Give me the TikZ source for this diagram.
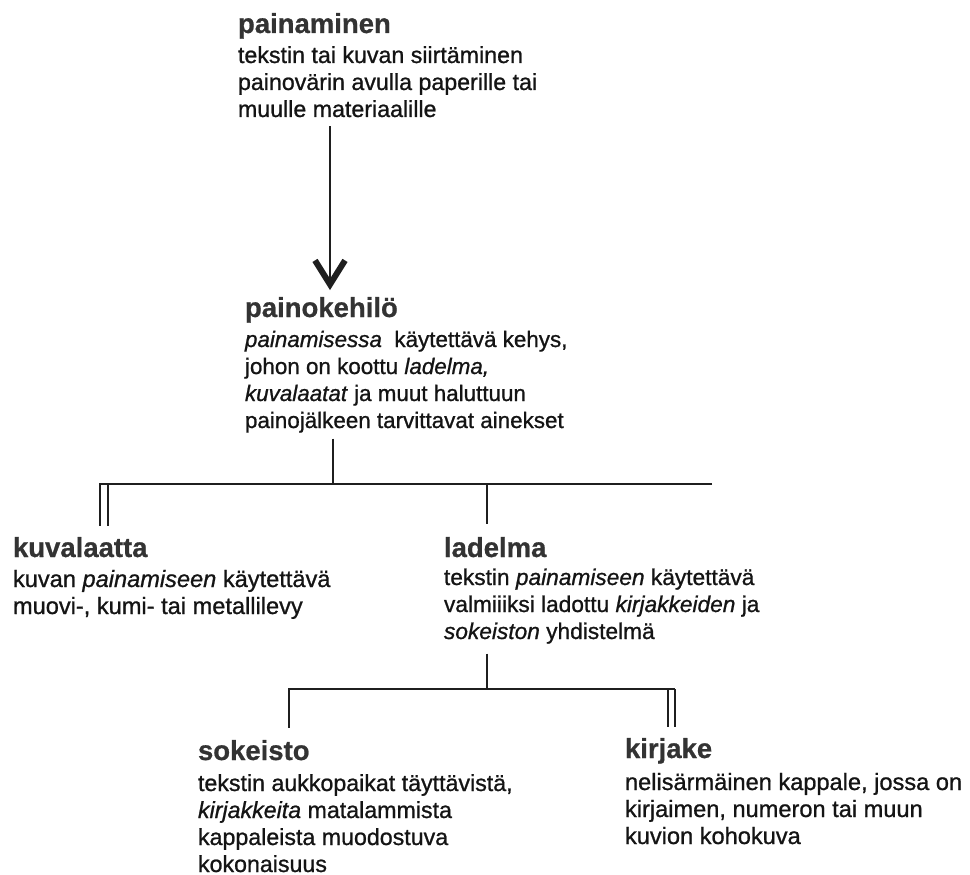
\documentclass[tikz,border=0pt]{standalone}
\usepackage{fontspec}
\setmainfont{Liberation Sans}
\newfontfamily\bodyfam{Liberation Sans}[RawFeature={embolden=0.9}]
\newfontfamily\ttlfam{Liberation Sans}[RawFeature={embolden=0.7}]
\usetikzlibrary{arrows.meta,calc}
\newcommand\ttlfont{\ttlfam\fontsize{27.5}{30}\selectfont\bfseries}
\newcommand\bdyfont[1]{\bodyfam\fontsize{#1}{27}\selectfont\mdseries}
\newcommand\blk[5][23]{\vtop{\ttlfont\hbox{\color{black!80}#2}\bdyfont{#1}\baselineskip=#3\relax\hbox{#4}\baselineskip=27pt\relax#5}}
\newcommand\bline[1]{\hbox{#1}}
\begin{document}
\begin{tikzpicture}[x=1pt,y=-1pt,
  entry/.style={anchor=base west,inner sep=0pt,outer sep=0pt,text=black!92},
  conn/.style={line width=1.2pt,draw=black!88},
  arrowconn/.style={conn,-{Straight Barb[length=24pt,width=30pt,line width=6pt]}}]
\useasboundingbox[fill=white] (0,0) rectangle (970,875);

% entries
\node[entry] (painaminen) at (238,33) {\blk[23.2]{painaminen}{30pt}{tekstin tai kuvan siirtäminen}{%
  \bline{painovärin avulla paperille tai}\bline{muulle materiaalille}}};
\node[entry] (painokehilo) at (245,317) {\blk[22.4]{painokehilö}{30pt}{\textit{painamisessa}\ \ käytettävä kehys,}{%
  \bline{johon on koottu \textit{ladelma,}}\bline{\textit{kuvalaatat} ja muut haluttuun}\bline{painojälkeen tarvittavat ainekset}}};
\node[entry] (kuvalaatta) at (13,557) {\blk[23.6]{kuvalaatta}{30pt}{kuvan \textit{painamiseen} käytettävä}{%
  \bline{muovi-, kumi- tai metallilevy}}};
\node[entry] (ladelma) at (444,557) {\blk[22.7]{ladelma}{28pt}{tekstin \textit{painamiseen} käytettävä}{%
  \bline{valmiiiksi ladottu \textit{kirjakkeiden} ja}\bline{\textit{sokeiston} yhdistelmä}}};
\node[entry] (sokeisto) at (198,760) {\blk[23.2]{sokeisto}{31pt}{tekstin aukkopaikat täyttävistä,}{%
  \bline{\textit{kirjakkeita} matalammista}\bline{kappaleista muodostuva}\bline{kokonaisuus}}};
\node[entry] (kirjake) at (625,758) {\blk[23.6]{kirjake}{32pt}{nelisärmäinen kappale, jossa on}{%
  \bline{kirjaimen, numeron tai muun}\bline{kuvion kohokuva}}};

% junction coordinates
\coordinate (ax) at (330,0);
\coordinate (j1) at (333,484);
\coordinate (j1l) at (100,484);
\coordinate (j1r) at (712,484);
\coordinate (j1m) at (487,484);
\coordinate (j2) at (487,689);
\coordinate (j2l) at (289,689);
\coordinate (j2r) at (675,689);

% arrow painaminen -> painokehilo
\draw[arrowconn] ($(painaminen.south -| ax)+(0,9)$) -- ($(painokehilo.north -| ax)+(0,-7)$);

% first tree
\draw[conn] ($(painokehilo.south -| j1)+(0,6)$) -- (j1);
\draw[conn] (j1r) -- (j1l) -- ($(kuvalaatta.north -| j1l)+(0,-11)$);
\draw[conn] ($(j1l)+(8,0)$) -- ($(kuvalaatta.north -| j1l)+(8,-11)$);
\draw[conn] (j1m) -- ($(ladelma.north -| j1m)+(0,-13)$);

% second tree
\draw[conn] ($(ladelma.south -| j2)+(0,10)$) -- (j2);
\draw[conn] (j2r) -- (j2l) -- ($(sokeisto.north -| j2l)+(0,-12)$);
\draw[conn] (j2r) -- ($(kirjake.north -| j2r)+(0,-11)$);
\draw[conn] ($(j2r)+(-7,0)$) -- ($(kirjake.north -| j2r)+(-7,-11)$);
\end{tikzpicture}
\end{document}
